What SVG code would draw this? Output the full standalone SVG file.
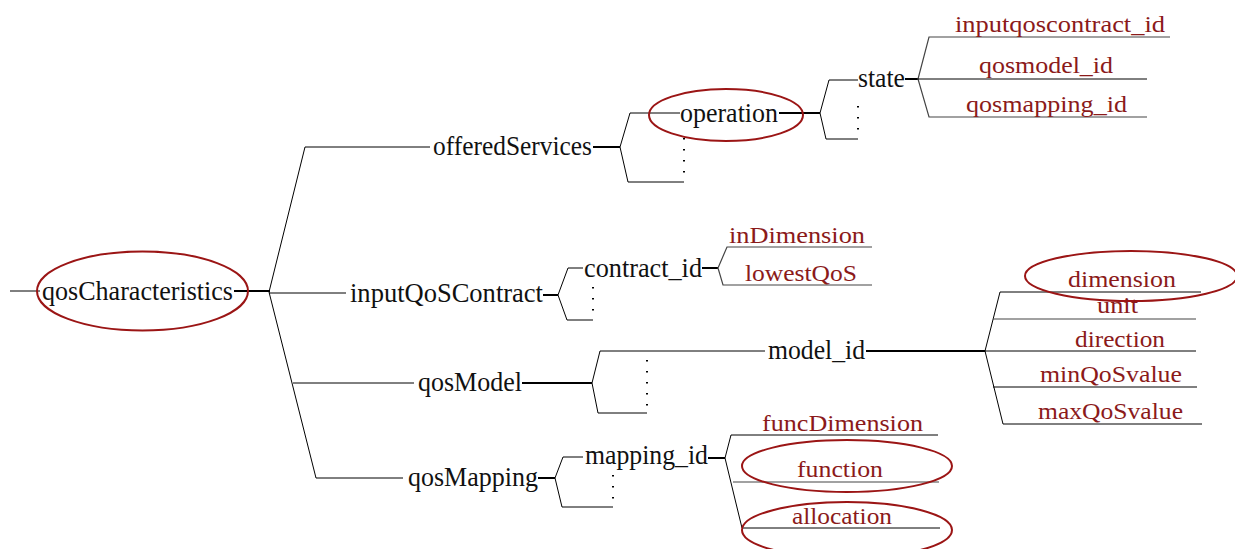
<svg xmlns="http://www.w3.org/2000/svg" width="1235" height="549" viewBox="0 0 1235 549">
<style>
.t{font-family:"Liberation Serif","DejaVu Serif",serif;font-size:27px;fill:#111}
.r{font-family:"Liberation Serif","DejaVu Serif",serif;font-size:24px;fill:#8b1a1a}
.l{stroke:#000;stroke-width:1;fill:none}
.g{stroke:#444;stroke-width:1.2;fill:none}
.k{stroke:#000;stroke-width:2;fill:none}
.d{stroke:#000;stroke-width:2;stroke-dasharray:1.5 9.5;fill:none}
.e{stroke:#9b1515;stroke-width:2;fill:none}
</style>
<g id="connectors">
<line class="l" x1="10" y1="291" x2="40" y2="291"/>
<line class="k" x1="234" y1="291" x2="270" y2="291"/>
<polyline class="l" points="430,147 305,147 269,292 316,478 403,478"/>
<line class="l" x1="269" y1="293" x2="346" y2="293"/>
<line class="l" x1="293" y1="383" x2="414" y2="383"/>
<line class="k" x1="593" y1="147" x2="620" y2="147"/>
<polyline class="l" points="680,113 630,113 620,147 628,182 684,182"/>
<line class="d" x1="684" y1="138" x2="684" y2="182"/>
<line class="k" x1="779" y1="113" x2="820" y2="113"/>
<polyline class="l" points="858,80 829,80 820,113 826,139 858,139"/>
<line class="d" x1="858" y1="106" x2="858" y2="139"/>
<line class="k" x1="905" y1="79" x2="918" y2="79"/>
<polyline class="g" points="1170,37 929,37 918,79 929,117 1147,117"/>
<line class="l" x1="918" y1="79" x2="1147" y2="79"/>
<line class="k" x1="543" y1="295" x2="558" y2="295"/>
<polyline class="l" points="583,268 568,268 558,295 567,320 593,320"/>
<line class="d" x1="593" y1="287" x2="593" y2="320"/>
<line class="k" x1="702" y1="268" x2="718" y2="268"/>
<polyline class="g" points="872,247 727,247 718,268 723,285 872,285"/>
<line class="k" x1="522" y1="383" x2="592" y2="383"/>
<polyline class="l" points="765,351 600,351 592,383 598,413 647,413"/>
<line class="d" x1="647" y1="360" x2="647" y2="413"/>
<line class="k" x1="866" y1="351" x2="985" y2="351"/>
<polyline class="l" points="1201,292 1000,292 985,351 1003,424 1202,424"/>
<line class="g" x1="993" y1="319" x2="1196" y2="319"/>
<line class="l" x1="985" y1="351" x2="1196" y2="351"/>
<line class="l" x1="993" y1="387" x2="1197" y2="387"/>
<line class="k" x1="538" y1="478" x2="555" y2="478"/>
<polyline class="l" points="583,457 563,457 555,478 562,507 613,507"/>
<line class="d" x1="613" y1="475" x2="613" y2="507"/>
<line class="k" x1="708" y1="458" x2="725" y2="458"/>
<polyline class="l" points="938,435 731,435 725,458 742,528 940,528"/>
<line class="g" x1="733" y1="482" x2="939" y2="482"/>
</g>
<g id="qosCharacteristics"><ellipse class="e" cx="142.5" cy="291" rx="105.5" ry="39.5"/><text class="t" x="42" y="300" textLength="191" lengthAdjust="spacingAndGlyphs">qosCharacteristics</text></g>
<g id="offeredServices"><text class="t" x="433" y="155" textLength="159" lengthAdjust="spacingAndGlyphs">offeredServices</text></g>
<g id="operation"><ellipse class="e" cx="726" cy="115" rx="77" ry="26"/><text class="t" x="680" y="122" textLength="98" lengthAdjust="spacingAndGlyphs">operation</text></g>
<g id="state"><text class="t" x="858" y="87" textLength="47" lengthAdjust="spacingAndGlyphs">state</text></g>
<g id="inputqoscontract_id"><text class="r" x="955" y="32" textLength="210" lengthAdjust="spacingAndGlyphs">inputqoscontract_id</text></g>
<g id="qosmodel_id"><text class="r" x="979" y="73" textLength="134" lengthAdjust="spacingAndGlyphs">qosmodel_id</text></g>
<g id="qosmapping_id"><text class="r" x="966" y="112" textLength="161" lengthAdjust="spacingAndGlyphs">qosmapping_id</text></g>
<g id="inputQoSContract"><text class="t" x="350" y="302" textLength="193" lengthAdjust="spacingAndGlyphs">inputQoSContract</text></g>
<g id="contract_id"><text class="t" x="584" y="277" textLength="118" lengthAdjust="spacingAndGlyphs">contract_id</text></g>
<g id="inDimension"><text class="r" x="729" y="243" textLength="136" lengthAdjust="spacingAndGlyphs">inDimension</text></g>
<g id="lowestQoS"><text class="r" x="745" y="281" textLength="112" lengthAdjust="spacingAndGlyphs">lowestQoS</text></g>
<g id="qosModel"><text class="t" x="418" y="391" textLength="104" lengthAdjust="spacingAndGlyphs">qosModel</text></g>
<g id="model_id"><text class="t" x="768" y="359" textLength="97" lengthAdjust="spacingAndGlyphs">model_id</text></g>
<g id="dimension"><ellipse class="e" cx="1131" cy="276" rx="106" ry="25"/><text class="r" x="1068" y="287" textLength="108" lengthAdjust="spacingAndGlyphs">dimension</text></g>
<g id="unit"><text class="r" x="1097" y="313" textLength="41" lengthAdjust="spacingAndGlyphs">unit</text></g>
<g id="direction"><text class="r" x="1075" y="347" textLength="90" lengthAdjust="spacingAndGlyphs">direction</text></g>
<g id="minQoSvalue"><text class="r" x="1040" y="382" textLength="142" lengthAdjust="spacingAndGlyphs">minQoSvalue</text></g>
<g id="maxQoSvalue"><text class="r" x="1038" y="419" textLength="145" lengthAdjust="spacingAndGlyphs">maxQoSvalue</text></g>
<g id="qosMapping"><text class="t" x="408" y="486" textLength="130" lengthAdjust="spacingAndGlyphs">qosMapping</text></g>
<g id="mapping_id"><text class="t" x="585" y="464" textLength="123" lengthAdjust="spacingAndGlyphs">mapping_id</text></g>
<g id="funcDimension"><text class="r" x="762" y="431" textLength="161" lengthAdjust="spacingAndGlyphs">funcDimension</text></g>
<g id="function"><ellipse class="e" cx="847" cy="466" rx="105" ry="26"/><text class="r" x="797" y="477" textLength="86" lengthAdjust="spacingAndGlyphs">function</text></g>
<g id="allocation"><ellipse class="e" cx="847" cy="530" rx="105" ry="28"/><text class="r" x="792" y="524" textLength="100" lengthAdjust="spacingAndGlyphs">allocation</text></g>
</svg>
